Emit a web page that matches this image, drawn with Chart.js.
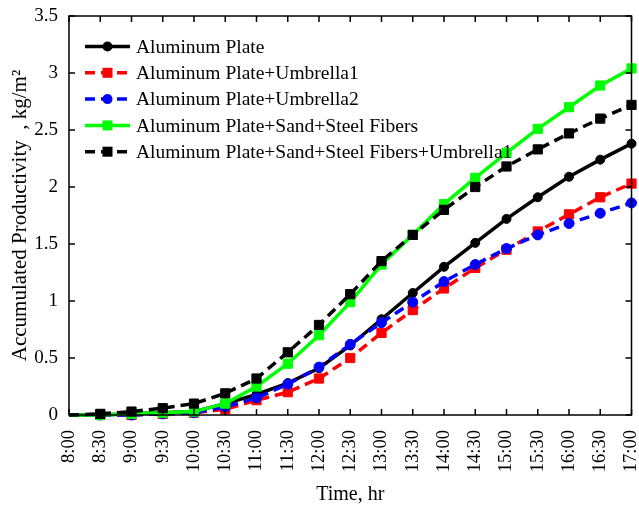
<!DOCTYPE html>
<html lang="en">
<head>
  <meta charset="UTF-8" />
  <title>Accumulated Productivity</title>
  <script src="https://cdn.jsdelivr.net/npm/chart.js@4.4.1/dist/chart.umd.min.js"></script>
  <style>
    body { margin: 0; background: #fff; }
    #wrap { width: 639px; height: 507px; }
  </style>
</head>
<body>
  <div id="wrap"><canvas id="chart" width="639" height="507"></canvas></div>

  <script>
    // time axis
    const times = ['8:00','8:30','9:00','9:30','10:00','10:30','11:00','11:30','12:00','12:30',
                   '13:00','13:30','14:00','14:30','15:00','15:30','16:00','16:30','17:00'];

    // accumulated productivity, kg/m2
    const plate          = [0, 0, 0.01, 0.02, 0.03, 0.10, 0.18, 0.28, 0.41, 0.61, 0.84, 1.07, 1.30, 1.51, 1.72, 1.91, 2.09, 2.24, 2.38];
    const plateUmb1      = [0, 0, 0, 0.01, 0.02, 0.05, 0.13, 0.20, 0.32, 0.50, 0.72, 0.92, 1.11, 1.29, 1.45, 1.61, 1.76, 1.91, 2.03];
    const plateUmb2      = [0, 0, 0, 0.01, 0.02, 0.07, 0.15, 0.27, 0.42, 0.62, 0.81, 0.99, 1.17, 1.32, 1.46, 1.58, 1.68, 1.77, 1.86];
    const sandSteel      = [0, 0, 0.01, 0.02, 0.03, 0.10, 0.25, 0.45, 0.70, 0.99, 1.32, 1.58, 1.85, 2.08, 2.30, 2.51, 2.70, 2.89, 3.04];
    const sandSteelUmb1  = [0, 0.01, 0.03, 0.06, 0.10, 0.19, 0.32, 0.55, 0.79, 1.06, 1.35, 1.58, 1.80, 2.00, 2.18, 2.33, 2.47, 2.60, 2.72];

    const yTicks = [0, 0.5, 1, 1.5, 2, 2.5, 3, 3.5];

    const serif = "'Liberation Serif', 'Times New Roman', serif";

    function series(label, data, color, dashed, shape, r, order) {
      return {
        label: label,
        data: data,
        order: order,
        borderColor: color,
        backgroundColor: color,
        borderWidth: 3.5,
        borderDash: dashed ? [10, 6] : [],
        pointStyle: shape,
        // no marker at 8:00, it sits under the axis
        pointRadius: ctx => ctx.dataIndex === 0 ? 0 : r,
        pointBackgroundColor: color,
        pointBorderColor: color,
        pointBorderWidth: 1,
        tension: 0,
        clip: false
      };
    }

    // frame with inward ticks on all four sides + legend inside plot
    const framePlugin = {
      id: 'frame',
      afterDraw(chart) {
        const ctx = chart.ctx;
        const a = chart.chartArea;
        const xs = chart.scales.x;
        const ys = chart.scales.y;
        ctx.save();
        ctx.strokeStyle = '#000';
        ctx.lineWidth = 1.5;
        ctx.setLineDash([]);
        ctx.strokeRect(a.left, a.top, a.right - a.left, a.bottom - a.top);
        ctx.beginPath();
        times.forEach((t, i) => {
          const px = xs.getPixelForValue(i);
          ctx.moveTo(px, a.bottom); ctx.lineTo(px, a.bottom - 6);
          ctx.moveTo(px, a.top); ctx.lineTo(px, a.top + 6);
        });
        yTicks.forEach(v => {
          const py = ys.getPixelForValue(v);
          ctx.moveTo(a.left, py); ctx.lineTo(a.left + 6, py);
          ctx.moveTo(a.right, py); ctx.lineTo(a.right - 6, py);
        });
        ctx.stroke();

        // legend
        const lx = a.left + 16;
        let ly = a.top + 30.5;
        ctx.font = '19.5px ' + serif;
        ctx.textBaseline = 'middle';
        chart.data.datasets.forEach(ds => {
          ctx.strokeStyle = ds.borderColor;
          ctx.fillStyle = ds.borderColor;
          ctx.lineWidth = 3.5;
          ctx.setLineDash(ds.borderDash);
          ctx.beginPath();
          ctx.moveTo(lx, ly); ctx.lineTo(lx + 45, ly);
          ctx.stroke();
          ctx.setLineDash([]);
          const mx = lx + 22.5;
          if (ds.pointStyle === 'rect') {
            ctx.fillRect(mx - 5, ly - 5, 10, 10);
          } else {
            ctx.beginPath(); ctx.arc(mx, ly, 5, 0, Math.PI * 2); ctx.fill();
          }
          ctx.fillStyle = '#000';
          ctx.fillText(ds.label, lx + 51, ly + 1);
          ly += 26.3;
        });
        ctx.restore();
      }
    };

    new Chart(document.getElementById('chart').getContext('2d'), {
      type: 'line',
      data: {
        labels: times,
        datasets: [
          series('Aluminum Plate', plate, '#000000', false, 'circle', 4.5, 5),
          series('Aluminum Plate+Umbrella1', plateUmb1, '#ff0000', true, 'rect', 6.5, 4),
          series('Aluminum Plate+Umbrella2', plateUmb2, '#0000ff', true, 'circle', 5, 3),
          series('Aluminum Plate+Sand+Steel Fibers', sandSteel, '#00ff00', false, 'rect', 6.5, 2),
          series('Aluminum Plate+Sand+Steel Fibers+Umbrella1', sandSteelUmb1, '#000000', true, 'rect', 6.5, 1)
        ]
      },
      options: {
        responsive: false,
        animation: false,
        layout: { padding: { top: 16, right: -4, left: 0, bottom: 0 } },
        plugins: { legend: { display: false }, tooltip: { enabled: false } },
        scales: {
          x: {
            type: 'category',
            offset: false,
            grid: { display: false },
            border: { display: false },
            ticks: {
              color: '#000',
              font: { family: serif, size: 18.5 },
              minRotation: 90,
              maxRotation: 90,
              autoSkip: false,
              padding: 7
            },
            title: {
              display: true,
              text: 'Time, hr',
              color: '#000',
              font: { family: serif, size: 20 },
              padding: { top: 6, bottom: 0 }
            },
            afterFit(scale) {
              scale.height = 92;
              scale.paddingLeft = 0;
              scale.paddingRight = 0;
            }
          },
          y: {
            min: 0,
            max: 3.5,
            grid: { display: false },
            border: { display: false },
            afterBuildTicks(scale) { scale.ticks = yTicks.map(v => ({ value: v })); },
            ticks: {
              color: '#000',
              font: { family: serif, size: 19 },
              padding: 3,
              callback: v => String(v)
            },
            title: {
              display: true,
              text: 'Accumulated Productivity  , kg/m\u00B2',
              color: '#000',
              font: { family: serif, size: 21 },
              padding: { top: 8, bottom: 0 }
            },
            afterFit(scale) {
              scale.width = 69;
              scale.paddingTop = 0;
              scale.paddingBottom = 0;
            }
          }
        }
      },
      plugins: [framePlugin]
    });
  </script>
</body>
</html>
